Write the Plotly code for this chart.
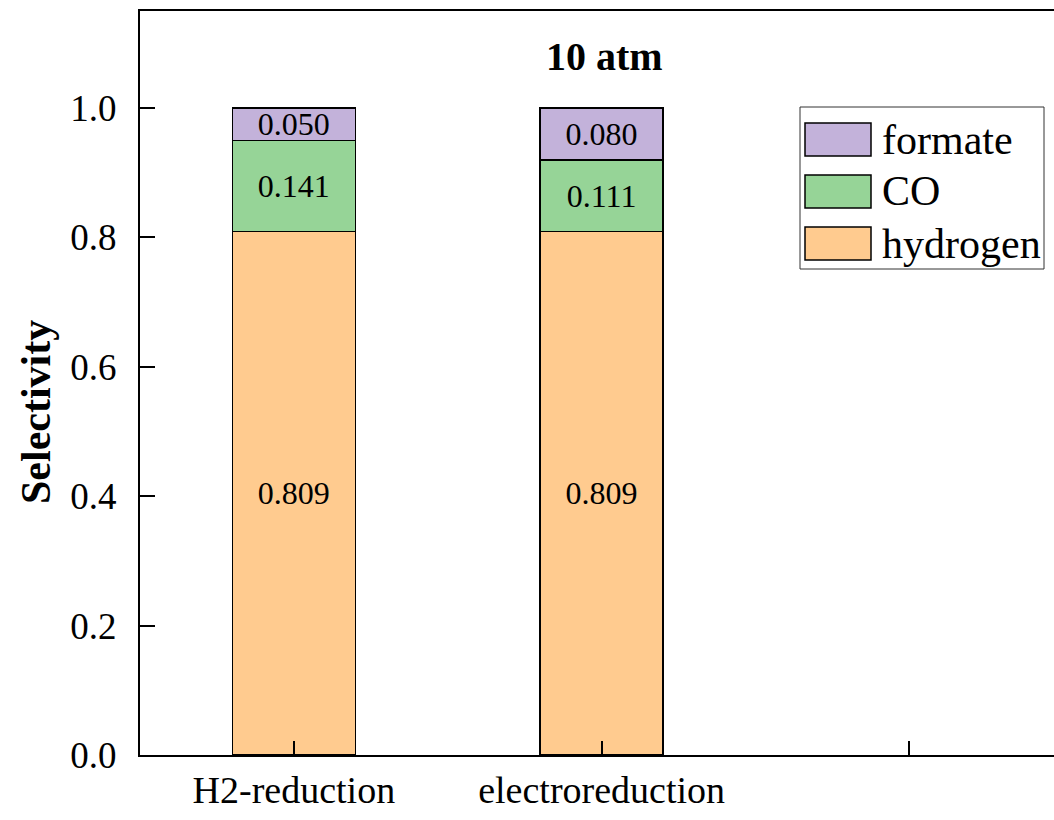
import plotly.graph_objects as go

categories = ["H2-reduction", "electroreduction", ""]
series_names = ["hydrogen", "CO", "formate"]
hydrogen = [0.809, 0.809]
co = [0.141, 0.111]
formate = [0.050, 0.080]
colors = {"hydrogen": "#FFCB8F", "CO": "#96D497", "formate": "#C3B2DA"}
y_ticks = [0.0, 0.2, 0.4, 0.6, 0.8, 1.0]

FONT = "Liberation Serif, Times New Roman, serif"
values = {"hydrogen": hydrogen, "CO": co, "formate": formate}
xs = list(range(len(hydrogen)))

fig = go.Figure()
for name in series_names:
    vals = values[name]
    fig.add_trace(go.Bar(
        x=xs, y=vals, name=name, width=0.4,
        marker=dict(color=colors[name], line=dict(color="black", width=1.5)),
        text=[f"{v:.3f}" for v in vals], textposition="inside",
        insidetextanchor="middle", constraintext="none",
        textfont=dict(family=FONT, size=32, color="black"),
        showlegend=False,
    ))

# plot area geometry (pixels) used to place legend in paper coords
L, R, T, B = 140, 1054, 11, 755
W, H = R - L, B - T
def px(x):
    return (x - L) / W
def py(y):
    return (B - y) / H

shapes = [dict(type="rect", xref="paper", yref="paper",
               x0=px(800), x1=px(1044), y0=py(269), y1=py(107),
               line=dict(color="#333333", width=1), fillcolor="white", layer="above")]
annotations = []
legend_order = ["formate", "CO", "hydrogen"]
row_tops = [123, 175, 227]
for name, top in zip(legend_order, row_tops):
    shapes.append(dict(type="rect", xref="paper", yref="paper",
                       x0=px(805), x1=px(871), y0=py(top + 33), y1=py(top),
                       line=dict(color="black", width=1.5), fillcolor=colors[name], layer="above"))
    annotations.append(dict(xref="paper", yref="paper", x=px(880), y=py(top + 16.5),
                            xanchor="left", yanchor="middle", showarrow=False,
                            text=name, font=dict(family=FONT, size=42, color="black")))

annotations.append(dict(xref="paper", yref="paper", x=px(604), y=py(57),
                        xanchor="center", yanchor="middle", showarrow=False,
                        text="<b>10 atm</b>", font=dict(family=FONT, size=40, color="black")))
annotations.append(dict(xref="paper", yref="paper", x=px(36), y=py(412),
                        xanchor="center", yanchor="middle", showarrow=False, textangle=-90,
                        text="<b>Selectivity</b>", font=dict(family=FONT, size=42, color="black")))

fig.update_layout(
    width=1054, height=820,
    margin=dict(l=L, r=1054 - R, t=T, b=820 - B),
    barmode="stack",
    paper_bgcolor="white", plot_bgcolor="white",
    font=dict(family=FONT, color="black"),
    shapes=shapes, annotations=annotations,
    showlegend=False,
)
fig.update_xaxes(
    range=[-0.5, 2.47], tickmode="array", tickvals=list(range(len(categories))),
    ticktext=categories, ticks="inside", ticklen=14, tickwidth=2, tickcolor="black",
    showline=True, linewidth=2, linecolor="black", mirror=True,
    showgrid=False, zeroline=False,
    tickfont=dict(family=FONT, size=38, color="black"),
)
fig.update_yaxes(
    range=[0, 1.15], tickmode="array", tickvals=y_ticks,
    ticktext=[f"{v:.1f}" for v in y_ticks], ticks="inside", ticklen=15, tickwidth=2,
    tickcolor="black", showline=True, linewidth=2, linecolor="black", mirror=False,
    showgrid=False, zeroline=False, ticklabelstandoff=14,
    tickfont=dict(family=FONT, size=37, color="black"),
)

fig.write_html("out.html")
